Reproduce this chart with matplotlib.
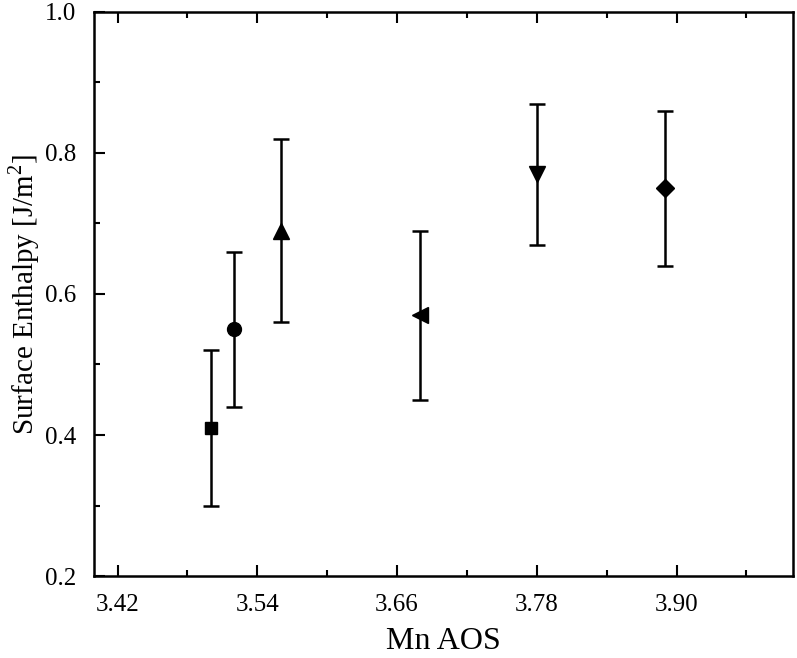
import matplotlib
matplotlib.use("Agg")
import matplotlib.pyplot as plt
from matplotlib.ticker import MultipleLocator, FormatStrFormatter

plt.rcParams['font.family'] = ['Liberation Serif', 'DejaVu Serif']
plt.rcParams['mathtext.fontset'] = 'custom'
plt.rcParams['mathtext.rm'] = 'Liberation Serif'

# data
mn_aos = [3.50, 3.52, 3.56, 3.68, 3.78, 3.89]
enthalpy = [0.41, 0.55, 0.69, 0.57, 0.77, 0.75]
err = [0.11, 0.11, 0.13, 0.12, 0.10, 0.11]
markers = ['s', 'o', '^', '<', 'v', 'D']
sizes = [9, 10, 11, 11, 11, 9]

major_x = [3.42, 3.54, 3.66, 3.78, 3.90]
minor_x = [3.48, 3.60, 3.72, 3.84, 3.96]

fig = plt.figure(figsize=(7.97, 6.58), dpi=100)
ax = fig.add_axes([0.1183, 0.1246, 0.8767, 0.8572])

for x, y, e, m, s in zip(mn_aos, enthalpy, err, markers, sizes):
    ax.errorbar(x, y, yerr=e, fmt=m, color='black', markersize=s,
                elinewidth=1.8, capsize=6, capthick=1.8)

ax.set_xlim(3.40, 4.00)
ax.set_ylim(0.2, 1.0)
ax.set_xticks(major_x)
ax.set_xticks(minor_x, minor=True)
ax.yaxis.set_major_locator(MultipleLocator(0.2))
ax.yaxis.set_minor_locator(MultipleLocator(0.1))
ax.xaxis.set_major_formatter(FormatStrFormatter('%.2f'))
ax.yaxis.set_major_formatter(FormatStrFormatter('%.1f'))

# all ticks point inward, top axis mirrored, no right ticks
ax.tick_params(axis='both', which='both', direction='in', width=1.5, top=True)
ax.tick_params(axis='both', which='major', length=8, labelsize=18)
ax.tick_params(axis='both', which='minor', length=4.5)
ax.tick_params(axis='x', which='major', pad=13)
ax.tick_params(axis='y', which='major', pad=13)

for sp in ax.spines.values():
    sp.set_linewidth(1.8)

ax.set_xlabel('Mn AOS', fontsize=23)
ax.set_ylabel('Surface Enthalpy [J/m$^2$]', fontsize=21)
ax.xaxis.set_label_coords(0.5, -0.09)
ax.yaxis.set_label_coords(-0.075, 0.5)

fig.savefig('out.png', dpi=100)
